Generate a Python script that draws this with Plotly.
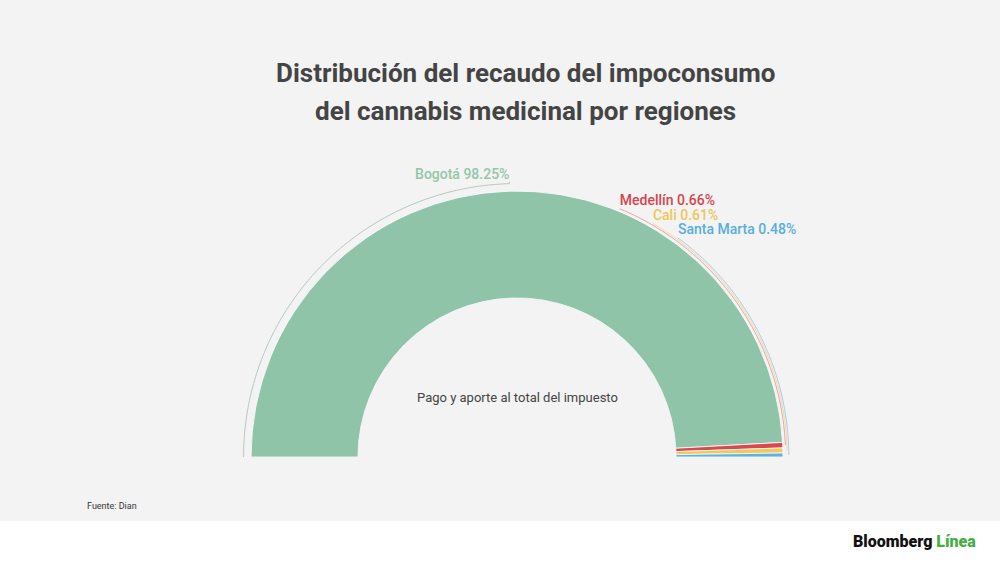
import numpy as np
import plotly.graph_objects as go

# data: share of the tax collected per region (%)
regions = ["Bogotá", "Medellín", "Cali", "Santa Marta"]
shares = [98.25, 0.66, 0.61, 0.48]
colors = ["#8fc4a8", "#d9474f", "#f2c85c", "#5cb3de"]
label_colors = ["#93c6aa", "#d4454f", "#efc65a", "#5aaedb"]
leader_colors = ["#b6c9be", "#e9a3a3", "#f1d9a2", "#a8cadd"]

# label placement along the outer arc (degrees, 0 = left end of the half circle)
label_theta = [None, 112.5, 120.2, 126.3]
leader_r = [1.07, 1.025, 1.04, 1.055]

# half circle -> 180 degrees for 100 %
deg = 180 / sum(shares)
widths = [s * deg for s in shares]
starts = np.cumsum([0] + widths[:-1])
mids = starts + np.array(widths) / 2

fig = go.Figure()

fig.add_trace(go.Barpolar(
    r=[1] * len(shares), theta=mids, width=widths,
    marker=dict(color=colors, line=dict(color="white", width=0.8)),
    hoverinfo="skip", showlegend=False))

for i, name in enumerate(regions):
    if label_theta[i] is None:
        # the big slice: arc from its start to its middle, then small tick
        th = np.linspace(starts[i], mids[i], 120)
        fig.add_trace(go.Scatterpolar(
            r=[leader_r[i]] * len(th), theta=th, mode="lines",
            line=dict(color=leader_colors[i], width=1),
            hoverinfo="skip", showlegend=False))
        fig.add_trace(go.Scatterpolar(
            r=[leader_r[i], leader_r[i] + 0.02], theta=[mids[i], mids[i]],
            mode="lines", line=dict(color=leader_colors[i], width=1),
            hoverinfo="skip", showlegend=False))
        lab_t, lab_r, pos = mids[i], leader_r[i] + 0.01, "top left"
    else:
        th = np.linspace(label_theta[i], mids[i], 120)
        fig.add_trace(go.Scatterpolar(
            r=[leader_r[i]] * len(th), theta=th, mode="lines",
            line=dict(color=leader_colors[i], width=1),
            hoverinfo="skip", showlegend=False))
        lab_t, lab_r, pos = label_theta[i], leader_r[i], "top right"
    fig.add_trace(go.Scatterpolar(
        r=[lab_r], theta=[lab_t], mode="text",
        text=[f"{name} {shares[i]:.2f}%"], textposition=pos,
        textfont=dict(family="Roboto", size=14, weight=500, color=label_colors[i]),
        hoverinfo="skip", showlegend=False))

fig.update_layout(
    width=1000, height=562,
    margin=dict(l=0, r=0, t=0, b=0),
    paper_bgcolor="white",
    polar=dict(
        domain=dict(x=[0.235, 0.799], y=[0.1868, 0.6886]),
        sector=[0, 180], hole=0.564, bgcolor="rgba(0,0,0,0)",
        radialaxis=dict(range=[0, 1.15], visible=False),
        angularaxis=dict(visible=False, rotation=180, direction="clockwise"),
    ),
    shapes=[dict(type="rect", xref="paper", yref="paper", x0=0, x1=1,
                 y0=41 / 562, y1=1, fillcolor="#f3f3f3", line=dict(width=0),
                 layer="below")],
    annotations=[
        dict(text="<b>Distribución del recaudo del impoconsumo</b>", x=0.525, y=1 - 73 / 562,
             xref="paper", yref="paper", showarrow=False, yanchor="middle",
             font=dict(family="Roboto", size=26, color="#444444")),
        dict(text="<b>del cannabis medicinal por regiones</b>", x=0.525, y=1 - 111 / 562,
             xref="paper", yref="paper", showarrow=False, yanchor="middle",
             font=dict(family="Roboto", size=26, color="#444444")),
        dict(text="Pago y aporte al total del impuesto", x=0.517, y=1 - 397 / 562,
             xref="paper", yref="paper", showarrow=False, yanchor="middle",
             font=dict(family="Roboto", size=13, color="#444444")),
        dict(text="Fuente: Dian", x=0.085, y=1 - 506 / 562, xanchor="left",
             xref="paper", yref="paper", showarrow=False, yanchor="middle",
             font=dict(family="Roboto", size=9, color="#333333")),
        dict(text="Bloomberg <span style='color:#45b045'>Línea</span>",
             x=0.978, y=1 - 541 / 562, xanchor="right", yanchor="middle",
             xref="paper", yref="paper", showarrow=False,
             font=dict(family="Roboto", size=16, weight=900, color="#111111")),
    ],
)

fig.write_html("out.html", config={"displayModeBar": False},
               post_script="document.body.style.margin='0';")
